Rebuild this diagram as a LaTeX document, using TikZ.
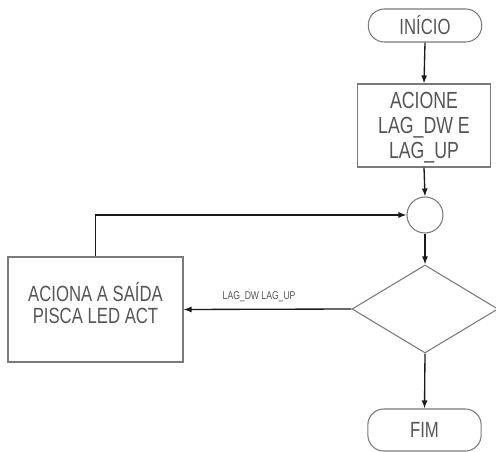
\documentclass[tikz,border=0pt]{standalone}
\usepackage{fontspec}
\setmainfont{Liberation Sans}[FakeStretch=0.76]
\usetikzlibrary{arrows.meta,shapes.geometric}
\definecolor{shapegray}{HTML}{7A7A7A}
\definecolor{textgray}{HTML}{555555}
\definecolor{linedark}{HTML}{1A1A1A}
\begin{document}
\begin{tikzpicture}[x=0.75pt,y=-0.75pt,
  every node/.style={text=textgray, font=\fontsize{16.5}{18.5}\selectfont, align=center},
  term/.style={draw=shapegray, line width=0.8pt, rounded corners=12pt, minimum width=85pt, inner sep=0pt},
  procbox/.style={draw=shapegray, line width=0.8pt, rectangle, inner sep=0pt},
  joint/.style={draw=shapegray, line width=0.8pt, circle, minimum size=27pt, inner sep=0pt},
  decision/.style={draw=shapegray, line width=0.8pt, diamond, minimum width=109.5pt, minimum height=66pt, inner sep=0pt, shape aspect=1.66},
  flow/.style={draw=linedark, line width=1pt, -{Latex[length=6pt,width=4.5pt]}},
  edgelabel/.style={font=\fontsize{8.5}{10}\selectfont, text=textgray}
]
\useasboundingbox (0,0) rectangle (496,452);

\node[term, minimum height=24.75pt] (start) at (425,25.5) {INÍCIO};
\node[procbox, minimum width=100pt, minimum height=62.25pt] (setlag) at (424,125.5) {};
\node[font=\fontsize{17.5}{18.75}\selectfont] (setlagtext) at (424,128) {ACIONE\\LAG\_DW E\\LAG\_UP};
\node[joint] (merge) at (425,215) {};
\node[decision] (test) at (425,309) {};
\node[term, minimum height=31.5pt] (finish) at (424.5,430) {FIM};
\node[procbox, minimum width=131.25pt, minimum height=78.75pt] (act) at (95.5,309.5) {};
\node[font=\fontsize{16.5}{17}\selectfont] (acttext) at (95.5,303) {ACIONA A SAÍDA\\PISCA LED ACT};

\draw[flow] (start.south) -- (setlag.north);
\draw[flow] (setlag.south) -- (merge.north);
\draw[flow] (merge.south) -- (test.north);
\draw[flow] (test.south) -- (finish.north);
\draw[flow] (test.west) -- node[edgelabel, above=1.5pt, pos=0.55] {LAG\_DW LAG\_UP} (act.east);
\draw[flow] (act.north) |- (merge.west);
\end{tikzpicture}
\end{document}
